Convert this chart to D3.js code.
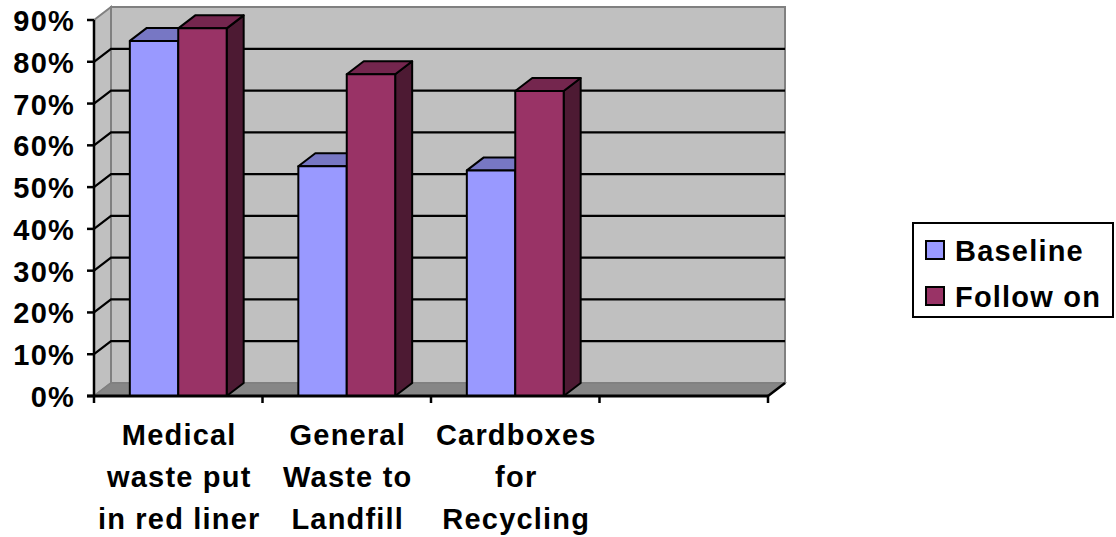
<!DOCTYPE html>
<html><head><meta charset="utf-8">
<script src="https://cdn.jsdelivr.net/npm/d3@7"></script>
<style>body{margin:0;background:#fff}svg{display:block}text{font-family:"Liberation Sans",Arial,sans-serif;font-weight:bold;font-size:29px;letter-spacing:1.2px;fill:#000}</style>
</head><body><svg id="c" width="1116" height="537"></svg>
<script>
const categories = ["Medical waste put in red liner", "General Waste to Landfill", "Cardboxes for Recycling", ""];
const categoryLines = [["Medical","waste put","in red liner"],["General","Waste to","Landfill"],["Cardboxes","for","Recycling"],[]];
const seriesNames = ["Baseline", "Follow on"];
const baseline = [0.85, 0.55, 0.54, null];
const followOn = [0.88, 0.77, 0.73, null];
const yTicks = [0, 0.1, 0.2, 0.3, 0.4, 0.5, 0.6, 0.7, 0.8, 0.9];

const svg = d3.select("#c");
const X0 = 94, X1 = 768, Y0 = 396, Y1 = 20;
const DX = 17, DY = -13;
const x = d3.scaleBand().domain(categories).range([X0, X1]).padding(0);
const xs = d3.scaleBand().domain(seriesNames).range([0, x.bandwidth()]).paddingInner(0).paddingOuter(0.74);
const y = d3.scaleLinear().domain([0, 0.9]).range([Y0, Y1]);
const fmt = d3.format(".0%");

const colors = {
  "Baseline": {front:"#9999FF", top:"#7777C4", side:"#5C5C99"},
  "Follow on": {front:"#993366", top:"#74264E", side:"#4D1A33"}
};

const poly = pts => "M" + pts.map(p => p.join(",")).join("L") + "Z";

// walls
svg.append("path").attr("d", poly([[X0+DX, Y1+DY],[X1+DX, Y1+DY],[X1+DX, Y0+DY],[X0+DX, Y0+DY]]))
  .attr("fill","#C0C0C0").attr("stroke","#808080").attr("stroke-width",2);
svg.append("path").attr("d", poly([[X0, Y1],[X0+DX, Y1+DY],[X0+DX, Y0+DY],[X0, Y0]]))
  .attr("fill","#C0C0C0").attr("stroke","#808080").attr("stroke-width",2);
svg.append("path").attr("d", poly([[X0, Y0],[X1, Y0],[X1+DX, Y0+DY],[X0+DX, Y0+DY]]))
  .attr("fill","#868686").attr("stroke","#808080").attr("stroke-width",1.5);

// gridlines
const gridT = yTicks.filter(t => t > 0 && t < 0.9);
svg.append("g").selectAll("path").data(gridT).join("path")
  .attr("d", t => `M${X0},${y(t)}L${X0+DX},${y(t)+DY}L${X1+DX},${y(t)+DY}`)
  .attr("fill","none").attr("stroke","#000").attr("stroke-width",2.2);

// bars
const data = [];
categories.forEach((c, i) => {
  [["Baseline", baseline[i]], ["Follow on", followOn[i]]].forEach(([s, v]) => {
    if (v != null) data.push({c, s, v});
  });
});
const bars = svg.append("g").selectAll("g").data(data).join("g");
bars.each(function(d) {
  const g = d3.select(this);
  const xl = x(d.c) + xs(d.s), xr = xl + xs.bandwidth();
  const yt = y(d.v), yb = y(0);
  const col = colors[d.s];
  g.append("path").attr("d", poly([[xr, yb],[xr, yt],[xr+DX, yt+DY],[xr+DX, yb+DY]]))
    .attr("fill", col.side).attr("stroke","#000").attr("stroke-width",2).attr("stroke-linejoin","round");
  g.append("path").attr("d", poly([[xl, yt],[xl+DX, yt+DY],[xr+DX, yt+DY],[xr, yt]]))
    .attr("fill", col.top).attr("stroke","#000").attr("stroke-width",2).attr("stroke-linejoin","round");
  g.append("path").attr("d", poly([[xl, yb],[xl, yt],[xr, yt],[xr, yb]]))
    .attr("fill", col.front).attr("stroke","#000").attr("stroke-width",2).attr("stroke-linejoin","round");
});

// axes
const yAxis = svg.append("g");
yAxis.append("line").attr("x1",X0).attr("x2",X0).attr("y1",Y1).attr("y2",Y0).attr("stroke","#000").attr("stroke-width",2.5);
yAxis.selectAll("line.t").data(yTicks).join("line").attr("class","t")
  .attr("x1",X0-7).attr("x2",X0).attr("y1",d=>y(d)).attr("y2",d=>y(d)).attr("stroke","#000").attr("stroke-width",2.5);
yAxis.selectAll("text").data(yTicks).join("text")
  .attr("x",75).attr("y",d=>y(d)+11).attr("text-anchor","end").text(d=>fmt(d));

const xAxis = svg.append("g");
xAxis.append("line").attr("x1",X0-7).attr("x2",X1).attr("y1",Y0).attr("y2",Y0).attr("stroke","#000").attr("stroke-width",3);
xAxis.append("line").attr("x1",X1).attr("x2",X1+DX).attr("y1",Y0).attr("y2",Y0+DY).attr("stroke","#000").attr("stroke-width",2.5);
const tickXs = categories.map(c => x(c)).concat([X1]);
xAxis.selectAll("line.t").data(tickXs).join("line").attr("class","t")
  .attr("x1",d=>d).attr("x2",d=>d).attr("y1",Y0).attr("y2",Y0+7).attr("stroke","#000").attr("stroke-width",2.5);
categories.forEach((c, i) => {
  const cx = x(c) + x.bandwidth()/2 + 1;
  xAxis.append("text").attr("x", cx).attr("text-anchor","middle")
    .selectAll("tspan").data(categoryLines[i]).join("tspan")
    .attr("x", cx).attr("y", (d, j) => 445 + j*42).text(d => d);
});

// legend
const lg = svg.append("g");
lg.append("rect").attr("x",913).attr("y",223).attr("width",200).attr("height",94)
  .attr("fill","#fff").attr("stroke","#000").attr("stroke-width",2);
const ly = d3.scalePoint().domain(seriesNames).range([250, 296]);
lg.selectAll("rect.s").data(seriesNames).join("rect").attr("class","s")
  .attr("x",926).attr("y",d=>ly(d)-9).attr("width",18).attr("height",18)
  .attr("fill",d=>colors[d].front).attr("stroke","#000").attr("stroke-width",2);
lg.selectAll("text").data(seriesNames).join("text")
  .attr("x",955).attr("y",d=>ly(d)+11).text(d=>d);
</script></body></html>
